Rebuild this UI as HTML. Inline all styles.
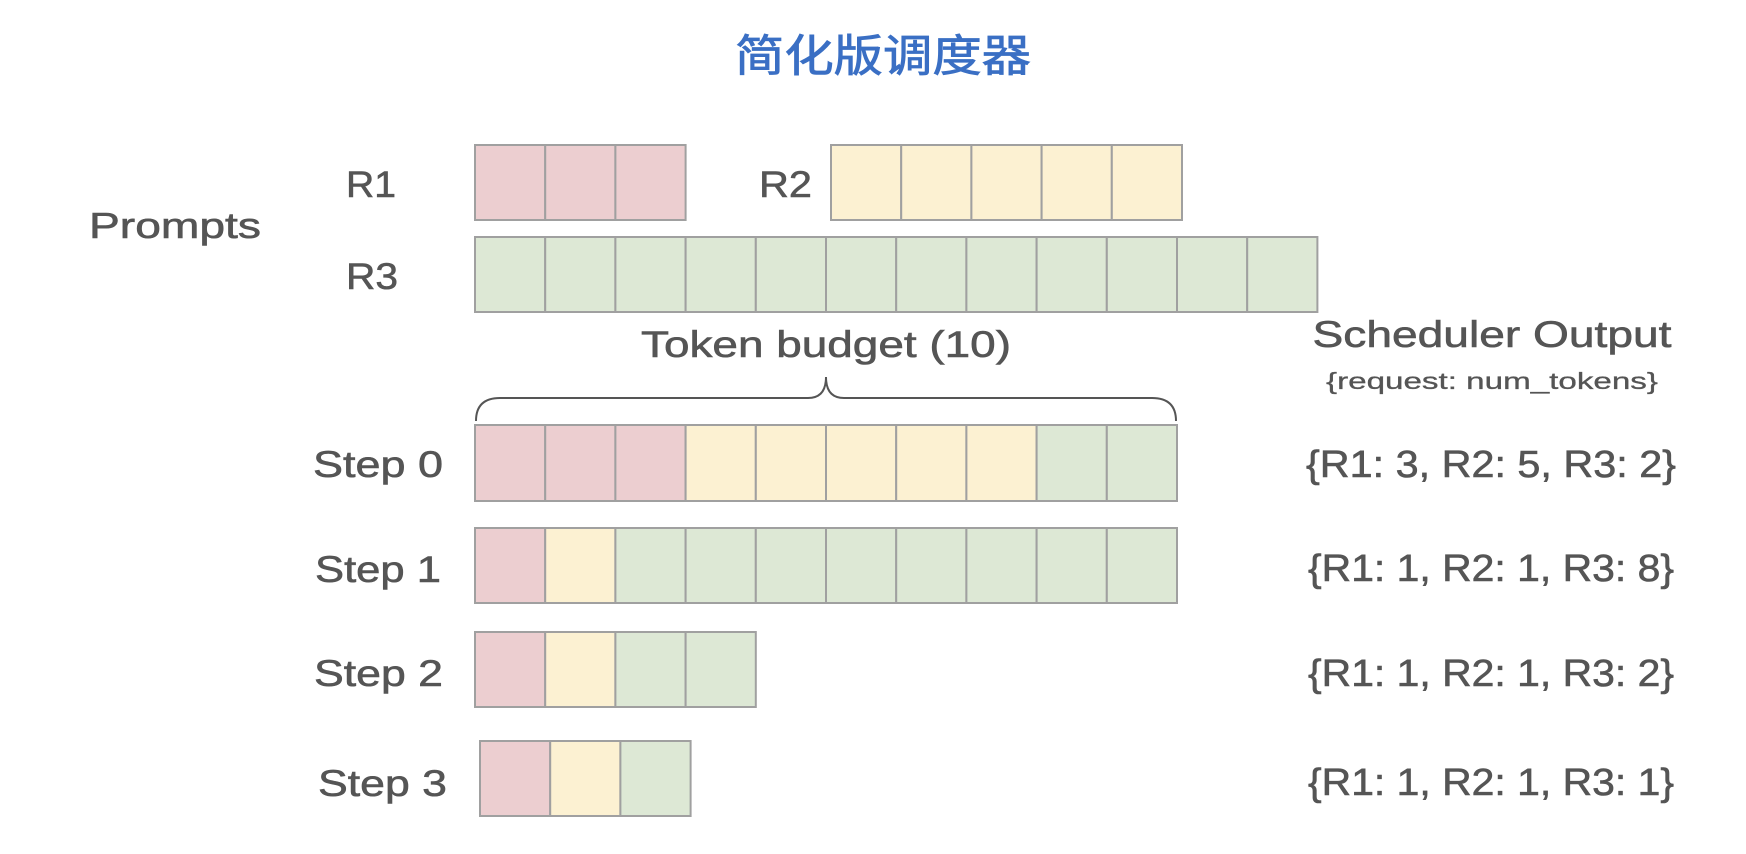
<!DOCTYPE html>
<html><head><meta charset="utf-8"><style>
html,body{margin:0;padding:0;background:#fff;}
svg{display:block}
text{font-family:"Liberation Sans","Noto Sans CJK SC",sans-serif;fill:#555;stroke:#555;stroke-width:0.6;}
</style></head><body>
<svg width="1746" height="854" viewBox="0 0 1746 854" xmlns="http://www.w3.org/2000/svg">
<text x="883" y="71" text-anchor="middle" font-size="44" textLength="296" lengthAdjust="spacingAndGlyphs" style="fill:#3a6fc4;stroke:#3a6fc4;stroke-width:0.8;font-family:'Liberation Sans','Noto Sans CJK SC',sans-serif">简化版调度器</text>
<g stroke="#a0a0a0" stroke-width="2">
<g fill="#ecced0">
<rect x="475" y="145" width="70.2" height="75"/><rect x="545.2" y="145" width="70.2" height="75"/><rect x="615.4" y="145" width="70.2" height="75"/>
</g>
<g fill="#fcf1d2">
<rect x="831" y="145" width="70.2" height="75"/><rect x="901.2" y="145" width="70.2" height="75"/><rect x="971.4" y="145" width="70.2" height="75"/><rect x="1041.6" y="145" width="70.2" height="75"/><rect x="1111.8" y="145" width="70.2" height="75"/>
</g>
<g fill="#dde8d5">
<rect x="475" y="237" width="70.2" height="75"/><rect x="545.2" y="237" width="70.2" height="75"/><rect x="615.4" y="237" width="70.2" height="75"/><rect x="685.6" y="237" width="70.2" height="75"/><rect x="755.8" y="237" width="70.2" height="75"/><rect x="826" y="237" width="70.2" height="75"/><rect x="896.2" y="237" width="70.2" height="75"/><rect x="966.4" y="237" width="70.2" height="75"/><rect x="1036.6" y="237" width="70.2" height="75"/><rect x="1106.8" y="237" width="70.2" height="75"/><rect x="1177" y="237" width="70.2" height="75"/><rect x="1247.2" y="237" width="70.2" height="75"/>
</g>
<rect x="475" y="425" width="70.2" height="76" fill="#ecced0"/><rect x="545.2" y="425" width="70.2" height="76" fill="#ecced0"/><rect x="615.4" y="425" width="70.2" height="76" fill="#ecced0"/>
<rect x="685.6" y="425" width="70.2" height="76" fill="#fcf1d2"/><rect x="755.8" y="425" width="70.2" height="76" fill="#fcf1d2"/><rect x="826" y="425" width="70.2" height="76" fill="#fcf1d2"/><rect x="896.2" y="425" width="70.2" height="76" fill="#fcf1d2"/><rect x="966.4" y="425" width="70.2" height="76" fill="#fcf1d2"/>
<rect x="1036.6" y="425" width="70.2" height="76" fill="#dde8d5"/><rect x="1106.8" y="425" width="70.2" height="76" fill="#dde8d5"/>
<rect x="475" y="528" width="70.2" height="75" fill="#ecced0"/><rect x="545.2" y="528" width="70.2" height="75" fill="#fcf1d2"/>
<g fill="#dde8d5"><rect x="615.4" y="528" width="70.2" height="75"/><rect x="685.6" y="528" width="70.2" height="75"/><rect x="755.8" y="528" width="70.2" height="75"/><rect x="826" y="528" width="70.2" height="75"/><rect x="896.2" y="528" width="70.2" height="75"/><rect x="966.4" y="528" width="70.2" height="75"/><rect x="1036.6" y="528" width="70.2" height="75"/><rect x="1106.8" y="528" width="70.2" height="75"/></g>
<rect x="475" y="632" width="70.2" height="75" fill="#ecced0"/><rect x="545.2" y="632" width="70.2" height="75" fill="#fcf1d2"/><rect x="615.4" y="632" width="70.2" height="75" fill="#dde8d5"/><rect x="685.6" y="632" width="70.2" height="75" fill="#dde8d5"/>
<rect x="480" y="741" width="70.2" height="75" fill="#ecced0"/><rect x="550.2" y="741" width="70.2" height="75" fill="#fcf1d2"/><rect x="620.4" y="741" width="70.2" height="75" fill="#dde8d5"/>
</g>
<path d="M476 421 Q476 398 500 398 L808 398 Q826 398 826 377 Q826 398 844 398 L1152 398 Q1176 398 1176 421" fill="none" stroke="#555" stroke-width="2"/>
<text x="89" y="238" font-size="36" textLength="172" lengthAdjust="spacingAndGlyphs">Prompts</text>
<text x="346" y="197" font-size="37" textLength="50" lengthAdjust="spacingAndGlyphs">R1</text>
<text x="759" y="197" font-size="37" textLength="53" lengthAdjust="spacingAndGlyphs">R2</text>
<text x="346" y="289" font-size="37" textLength="52" lengthAdjust="spacingAndGlyphs">R3</text>
<text x="826" y="357" text-anchor="middle" font-size="37" textLength="370" lengthAdjust="spacingAndGlyphs">Token budget (10)</text>
<text x="1492" y="347" text-anchor="middle" font-size="37" textLength="359" lengthAdjust="spacingAndGlyphs">Scheduler Output</text>
<text x="1492" y="389" text-anchor="middle" font-size="23" textLength="332" lengthAdjust="spacingAndGlyphs" style="stroke-width:0.3">{request: num_tokens}</text>
<g font-size="37" text-anchor="end">
<text x="443" y="477" textLength="130" lengthAdjust="spacingAndGlyphs">Step 0</text>
<text x="441" y="582" textLength="126" lengthAdjust="spacingAndGlyphs">Step 1</text>
<text x="443" y="686" textLength="129" lengthAdjust="spacingAndGlyphs">Step 2</text>
<text x="447" y="796" textLength="129" lengthAdjust="spacingAndGlyphs">Step 3</text>
</g>
<g font-size="38" text-anchor="middle">
<text x="1491" y="477" textLength="370" lengthAdjust="spacingAndGlyphs">{R1: 3, R2: 5, R3: 2}</text>
<text x="1491" y="581" textLength="366" lengthAdjust="spacingAndGlyphs">{R1: 1, R2: 1, R3: 8}</text>
<text x="1491" y="686" textLength="366" lengthAdjust="spacingAndGlyphs">{R1: 1, R2: 1, R3: 2}</text>
<text x="1491" y="795" textLength="366" lengthAdjust="spacingAndGlyphs">{R1: 1, R2: 1, R3: 1}</text>
</g>
</svg>
</body></html>
